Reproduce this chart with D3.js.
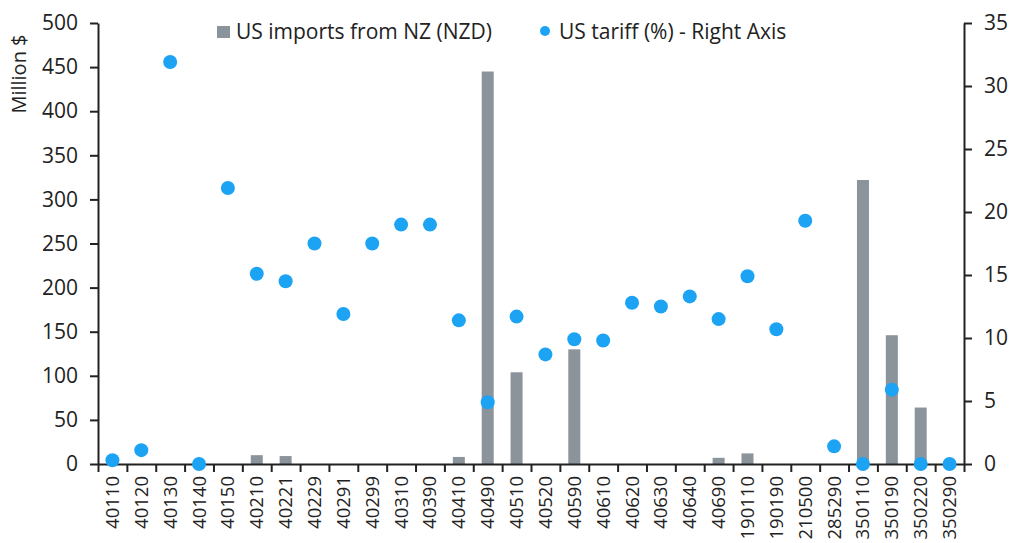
<!DOCTYPE html>
<html>
<head>
<meta charset="utf-8">
<script src="https://cdn.jsdelivr.net/npm/d3@7"></script>
<style>
  body { margin: 0; background: #fff; }
  text { font-family: "Open Sans", sans-serif; fill: #222; }
</style>
</head>
<body>
<div id="chart"></div>
<script>
// Data
const codes = ["40110", "40120", "40130", "40140", "40150", "40210", "40221", "40229", "40291", "40299",
    "40310", "40390", "40410", "40490", "40510", "40520", "40590", "40610", "40620", "40630",
    "40640", "40690", "190110", "190190", "210500", "285290", "350110", "350190", "350220", "350290"];
const imports = [0, 0, 0, 0, 0, 10, 9, 0, 0, 0,
    0, 0, 8, 445, 104, 0, 130, 0, 0, 0,
    0, 7, 12, 0, 0, 0, 322, 146, 64, 0];
const tariff = [0.3, 1.1, 31.9, 0, 21.9, 15.1, 14.5, 17.5, 11.9, 17.5,
    19, 19, 11.4, 4.9, 11.7, 8.7, 9.9, 9.8, 12.8, 12.5,
    13.3, 11.5, 14.9, 10.7, 19.3, 1.4, 0, 5.9, 0, 0];
const leftTicks = [0, 50, 100, 150, 200, 250, 300, 350, 400, 450, 500];
const rightTicks = [0, 5, 10, 15, 20, 25, 30, 35];

const config = {
    width: 1016,
    height: 543,
    margin: { top: 23, right: 52, bottom: 79, left: 98 },
    barColor: "#8b939b",
    dotColor: "#1ca3f4",
    axisColor: "#222"
};

const w = config.width - config.margin.left - config.margin.right;
const h = config.height - config.margin.top - config.margin.bottom;

const svg = d3.select("#chart")
    .append("svg")
    .attr("width", config.width)
    .attr("height", config.height);

const g = svg.append("g")
    .attr("transform", `translate(${config.margin.left},${config.margin.top})`);

// Scales
const x = d3.scaleBand().domain(codes).range([0, w]).padding(0);
const xIdx = d3.scaleLinear().domain([0, codes.length]).range([0, w]);
const yLeft = d3.scaleLinear().domain([0, 500]).range([h, 0]);
const yRight = d3.scaleLinear().domain([0, 35]).range([h, 0]);

// Bars
const barW = 12;
g.selectAll(".bar")
    .data(codes.map((c, i) => ({ code: c, value: imports[i] })).filter(d => d.value > 0))
    .enter()
    .append("rect")
    .attr("class", "bar")
    .attr("x", d => x(d.code) + x.bandwidth() / 2 - barW / 2)
    .attr("y", d => yLeft(d.value))
    .attr("width", barW)
    .attr("height", d => h - yLeft(d.value))
    .attr("fill", config.barColor);

// Axes
function styleAxis(sel) {
    sel.selectAll("path, line").attr("stroke", config.axisColor).attr("stroke-width", 2);
    sel.selectAll("text").style("font-family", "'Open Sans', sans-serif").attr("fill", "#222");
}

const leftAxis = g.append("g")
    .call(d3.axisLeft(yLeft).tickValues(leftTicks).tickSize(8).tickSizeOuter(0).tickPadding(12))
    .call(styleAxis);
leftAxis.selectAll("text").style("font-size", "21px");

const rightAxis = g.append("g")
    .attr("transform", `translate(${w},0)`)
    .call(d3.axisRight(yRight).tickValues(rightTicks).tickSize(8).tickSizeOuter(0).tickPadding(12))
    .call(styleAxis);
rightAxis.selectAll("text").style("font-size", "21px");

// bottom ticks at category boundaries
g.append("g")
    .attr("transform", `translate(0,${h})`)
    .call(d3.axisBottom(xIdx).tickValues(d3.range(codes.length + 1)).tickFormat("").tickSize(8).tickSizeOuter(0))
    .call(styleAxis);

// bottom labels
const labelAxis = g.append("g")
    .attr("transform", `translate(0,${h})`)
    .call(d3.axisBottom(x).tickSize(0).tickSizeOuter(0));
labelAxis.select(".domain").remove();
labelAxis.selectAll("text")
    .style("font-family", "'Open Sans', sans-serif")
    .style("font-size", "18.5px")
    .attr("fill", "#222")
    .attr("transform", "rotate(-90)")
    .attr("text-anchor", "end")
    .attr("x", -12)
    .attr("y", 0)
    .attr("dy", "0.35em");

// Dots
g.selectAll(".dot")
    .data(codes.map((c, i) => ({ code: c, value: tariff[i] })))
    .enter()
    .append("circle")
    .attr("class", "dot")
    .attr("cx", d => x(d.code) + x.bandwidth() / 2)
    .attr("cy", d => yRight(d.value))
    .attr("r", 7)
    .attr("fill", config.dotColor);

// Y axis title
svg.append("text")
    .attr("transform", "translate(26,74) rotate(-90)")
    .attr("text-anchor", "middle")
    .style("font-size", "20px")
    .text("Million $");

// Legend
const legend = svg.append("g");
legend.append("rect")
    .attr("x", 217).attr("y", 26)
    .attr("width", 13).attr("height", 12)
    .attr("fill", config.barColor);
legend.append("text")
    .attr("x", 236).attr("y", 39)
    .style("font-size", "21px")
    .text("US imports from NZ (NZD)");
legend.append("circle")
    .attr("cx", 545).attr("cy", 31)
    .attr("r", 5)
    .attr("fill", config.dotColor);
legend.append("text")
    .attr("x", 559).attr("y", 39)
    .style("font-size", "21px")
    .text("US tariff (%) - Right Axis");
</script>
</body>
</html>
